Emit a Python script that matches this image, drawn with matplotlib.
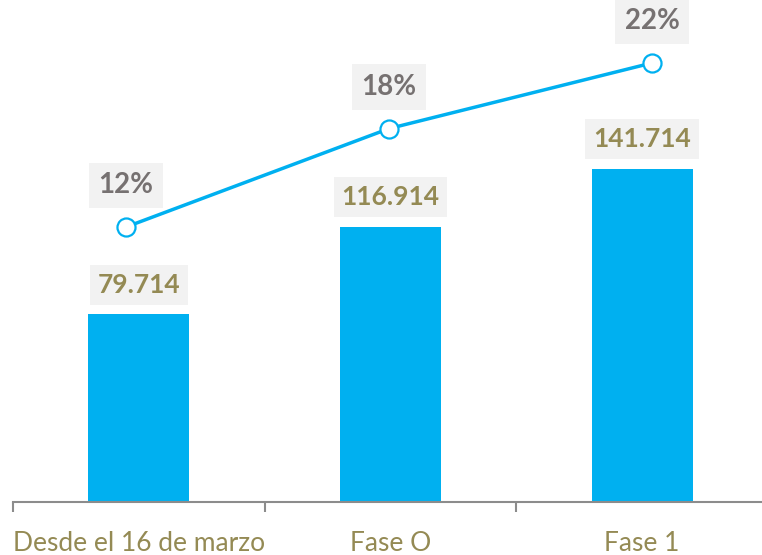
import matplotlib
matplotlib.use("Agg")
import matplotlib.pyplot as plt

categories = ["Desde el 16 de marzo", "Fase O", "Fase 1"]
values = [79.714, 116.914, 141.714]
value_labels = ["79.714", "116.914", "141.714"]
pcts = [12, 18, 22]
pct_labels = ["12%", "18%", "22%"]

W, H = 762, 555
fig = plt.figure(figsize=(W / 100, H / 100), dpi=100)
left_px, right_px, bottom_px, top_px = 13, 768, 502, 0
ax = fig.add_axes([left_px / W, (H - bottom_px) / H, (right_px - left_px) / W, (bottom_px - top_px) / H])
ax.set_xlim(-0.5, 2.5)
ax.set_ylim(0, 213.4)

blue = "#00B0F0"
olive = "#948A54"
gray = "#767171"
font = "Lato"

x = list(range(len(categories)))
ax.bar(x, values, width=0.4, color=blue, zorder=2)
for xi, v, lab in zip(x, values, value_labels):
    ax.annotate(lab, (xi, v), xytext=(0, 21.5), textcoords="offset points", ha="center", va="center",
                fontsize=19, fontweight="bold", color=olive, family=font,
                bbox=dict(boxstyle="square,pad=0.3", fc="#F2F2F2", ec="none"), zorder=5)

ax2 = fig.add_axes(ax.get_position(), frameon=False)
ax2.set_xlim(-0.43, 2.441)
ax2.set_ylim(-4.77, 25.84)
ax2.plot(x, pcts, color=blue, lw=2.5, marker="o", ms=13, mfc="white", mec=blue, mew=1.6, zorder=3)
for xi, p, lab in zip(x, pcts, pct_labels):
    ax2.annotate(lab, (xi, p), xytext=(0, 30), textcoords="offset points", ha="center", va="center",
                 fontsize=20, fontweight="bold", color=gray, family=font,
                 bbox=dict(boxstyle="square,pad=0.35", fc="#F2F2F2", ec="none"), zorder=5)
ax2.axis("off")

for s in ["top", "right", "left"]:
    ax.spines[s].set_visible(False)
ax.spines["bottom"].set_color("#8C8C8C")
ax.spines["bottom"].set_linewidth(1.5)
ax.set_yticks([])
ax.set_xticks([-0.5, 0.5, 1.5, 2.5])
ax.set_xticklabels([])
ax.set_xticks(x, minor=True)
ax.set_xticklabels(categories, minor=True, fontsize=19, color=olive, family=font)
ax.tick_params(axis="x", which="major", length=7.5, width=1.5, color="#8C8C8C")
ax.tick_params(axis="x", which="minor", length=0, pad=21)

fig.savefig("out.png", dpi=100)
